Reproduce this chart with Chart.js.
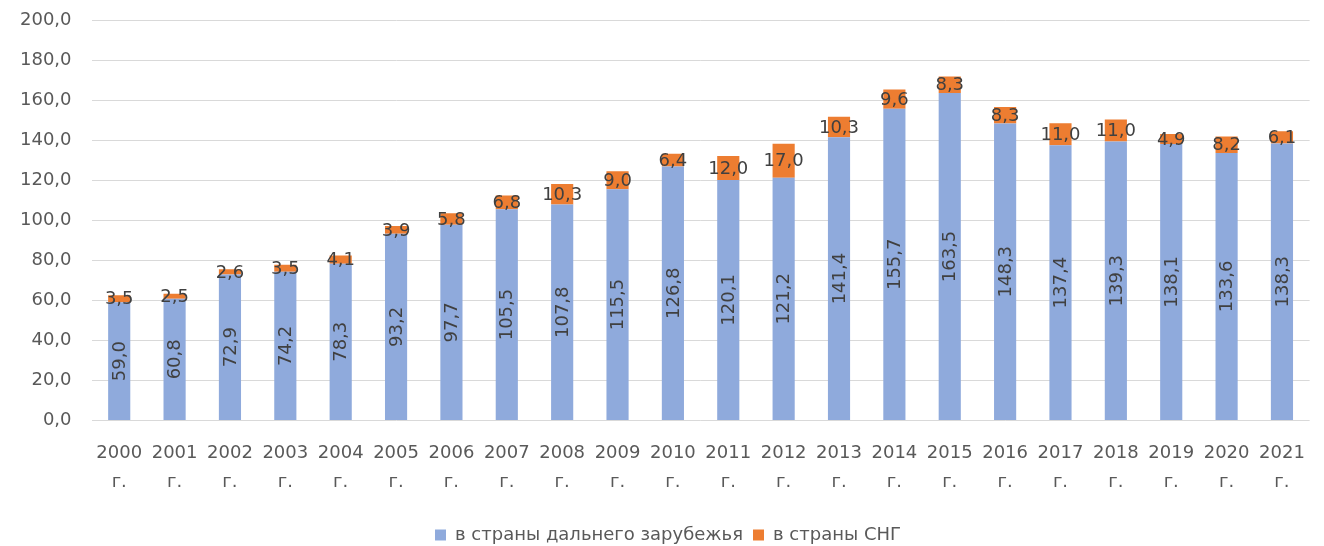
<!DOCTYPE html>
<html>
<head>
<meta charset="utf-8">
<script src="https://cdn.jsdelivr.net/npm/chart.js@4"></script>
<style>
  html, body { margin: 0; padding: 0; background: #fff; }
  #wrap { width: 1324px; height: 546px; }
</style>
</head>
<body>
<div id="wrap"><canvas id="chart" width="1324" height="546"></canvas></div>
<script>
const years = ['2000', '2001', '2002', '2003', '2004', '2005', '2006', '2007', '2008', '2009', '2010',
  '2011', '2012', '2013', '2014', '2015', '2016', '2017', '2018', '2019', '2020', '2021']
const farAbroad = [59.0, 60.8, 72.9, 74.2, 78.3, 93.2, 97.7, 105.5, 107.8, 115.5, 126.8,
  120.1, 121.2, 141.4, 155.7, 163.5, 148.3, 137.4, 139.3, 138.1, 133.6, 138.3]
const cis = [3.5, 2.5, 2.6, 3.5, 4.1, 3.9, 5.8, 6.8, 10.3, 9.0, 6.4,
  12.0, 17.0, 10.3, 9.6, 8.3, 8.3, 11.0, 11.0, 4.9, 8.2, 6.1]
const seriesNames = ['в страны дальнего зарубежья', 'в страны СНГ']

const fontFamily = '"DejaVu Sans", sans-serif'
const fmt = v => v.toFixed(1).replace('.', ',')

// подписи значений: синие — повернутые, оранжевые — горизонтальные
const valueLabels = {
  id: 'valueLabels',
  afterDatasetsDraw (chart) {
    const c = chart.ctx
    c.save()
    c.font = '18px ' + fontFamily
    c.fillStyle = '#404040'
    c.textAlign = 'center'
    c.textBaseline = 'middle'
    chart.data.datasets.forEach((ds, i) => {
      const meta = chart.getDatasetMeta(i)
      meta.data.forEach((bar, j) => {
        const mid = (bar.y + bar.base) / 2
        const text = fmt(ds.data[j])
        if (i === 0) {
          c.save()
          c.translate(bar.x, mid)
          c.rotate(-Math.PI / 2)
          c.fillText(text, 0, 1)
          c.restore()
        } else {
          c.fillText(text, bar.x, mid + 1)
        }
      })
    })
    c.restore()
  }
}

new Chart(document.getElementById('chart'), {
  type: 'bar',
  data: {
    labels: years.map(y => [y, 'г.']),
    datasets: [
      {
        label: seriesNames[0],
        data: farAbroad,
        backgroundColor: '#8faadc',
        categoryPercentage: 1,
        barPercentage: 0.4
      },
      {
        label: seriesNames[1],
        data: cis,
        backgroundColor: '#ed7d31',
        categoryPercentage: 1,
        barPercentage: 0.4
      }
    ]
  },
  options: {
    responsive: false,
    animation: false,
    layout: {
      padding: { top: 20, right: 6, left: 18, bottom: -8 }
    },
    plugins: {
      legend: {
        position: 'bottom',
        labels: {
          boxWidth: 11,
          boxHeight: 11,
          padding: 10,
          color: '#595959',
          font: { family: fontFamily, size: 18 }
        }
      },
      tooltip: { enabled: false }
    },
    scales: {
      x: {
        stacked: true,
        grid: { display: false, drawTicks: false },
        border: { display: false },
        ticks: {
          color: '#595959',
          padding: 19,
          maxRotation: 0,
          autoSkip: false,
          font: { family: fontFamily, size: 18, lineHeight: 1.6 }
        }
      },
      y: {
        stacked: true,
        min: 0,
        max: 200,
        grid: { color: '#d9d9d9', lineWidth: 1, drawTicks: true, tickLength: 18, tickColor: 'rgba(0,0,0,0)' },
        border: { display: false },
        ticks: {
          stepSize: 20,
          padding: 2,
          color: '#595959',
          font: { family: fontFamily, size: 18 },
          callback: v => fmt(v)
        }
      }
    }
  },
  plugins: [valueLabels]
})
</script>
</body>
</html>
